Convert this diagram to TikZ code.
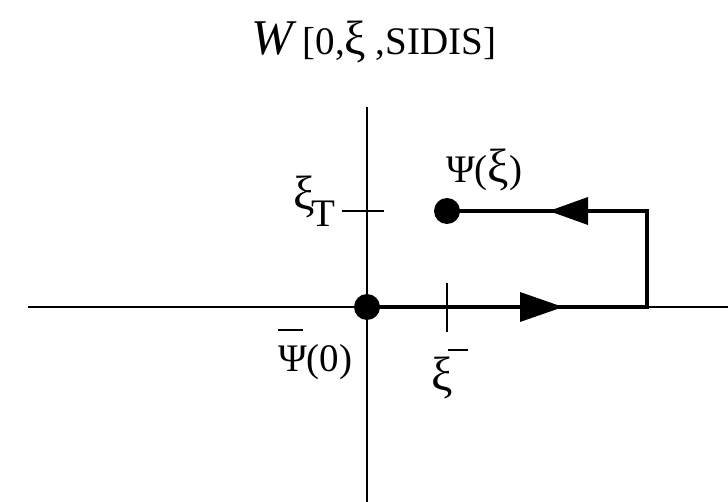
\documentclass[tikz,border=0pt]{standalone}
\usepackage{fontspec}
\setmainfont{Liberation Serif}
\newcommand\bigxi{{\fontsize{48}{50}\selectfont ξ}}
\begin{document}
\begin{tikzpicture}[x=1pt,y=-1pt,
  axis/.style={line width=2pt},
  loop/.style={line width=4.5pt, line join=miter},
  dot/.style={circle, fill=black, inner sep=0pt, minimum size=26pt},
  lbl/.style={font=\fontsize{39}{41}\selectfont, inner sep=0pt, anchor=base west},
  tri/.style={fill=black}]
\useasboundingbox (0,0) rectangle (728,502);
% axes
\coordinate (xl) at (28,307);
\coordinate (xr) at (728,307);
\coordinate (yt) at (367,107);
\coordinate (yb) at (367,502);
\draw[axis] (xl) -- (xr);
\draw[axis] (yt) -- (yb);
% ticks
\coordinate (tl) at (342,211);
\coordinate (tr) at (384,211);
\coordinate (tu) at (447,283);
\coordinate (td) at (447,332);
\draw[axis] (tl) -- (tr);
\draw[axis] (tu) -- (td);
% path
\coordinate (o) at (367,307);
\coordinate (p) at (447,211);
\coordinate (c1) at (647,307);
\coordinate (c2) at (647,211);
\draw[loop] (o) -- (c1) -- (c2) -- (p);
\fill[tri] (520,292) -- (563,307) -- (520,322) -- cycle;
\fill[tri] (588,197) -- (549,211) -- (588,225) -- cycle;
\node[dot] (od) at (o) {};
\node[dot] (pd) at (p) {};
% labels
\node[lbl] (title) at (251,55) {{\fontsize{50}{52}\selectfont\itshape W} [0,\bigxi\ ,SIDIS]};
\node[lbl] (psixi) at (446,183) {Ψ(\bigxi)};
\node[lbl] (xit) at (293,210) {\bigxi\kern-3pt\raisebox{-17pt}{T}};
\node[lbl] (psibar) at (278,372) {\rlap{\rule[41pt]{25pt}{2pt}}Ψ(0)};
\node[lbl] (ximinus) at (431,391) {\bigxi\kern-5pt\rule[40pt]{20pt}{2pt}};
\end{tikzpicture}
\end{document}
